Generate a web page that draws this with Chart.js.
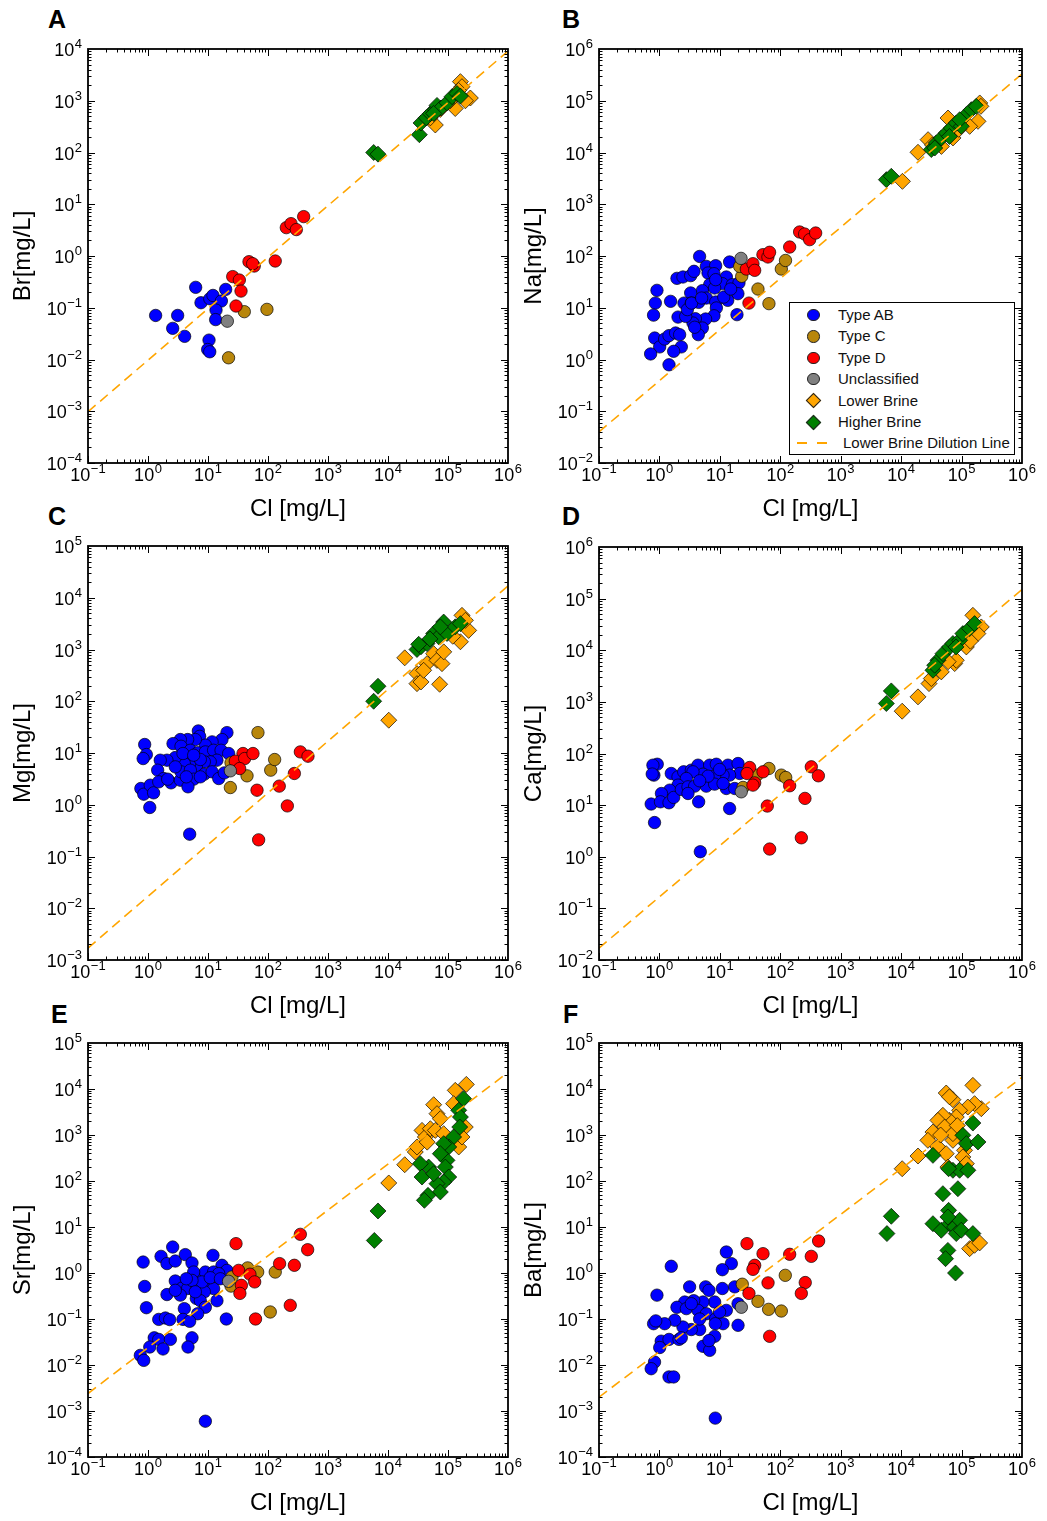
<!DOCTYPE html>
<html><head><meta charset="utf-8">
<script src="https://cdn.jsdelivr.net/npm/chart.js@4.4.1/dist/chart.umd.min.js"></script>
<style>
html,body{margin:0;padding:0;background:#fff;}
#page{position:relative;width:1047px;height:1521px;overflow:hidden;background:#fff;font-family:"Liberation Sans",Arial,sans-serif;}
canvas{position:absolute;}
.lbl{position:absolute;font-weight:bold;font-size:25px;line-height:25px;color:#000;}
#legend{position:absolute;left:789px;top:302px;width:224px;height:151px;border:1.5px solid #000;background:#fff;z-index:5;}
.row{position:absolute;left:0;height:20px;width:220px;font-size:15px;line-height:20px;color:#111;}
.row span.t{position:absolute;left:48px;top:0;white-space:nowrap;}
.mk{position:absolute;box-sizing:border-box;border:1px solid #222;}
.circ{width:12.5px;height:12.5px;border-radius:50%;left:17px;top:3.8px;}
.dia{width:11px;height:11px;left:17.5px;top:4.5px;transform:rotate(45deg);}
.dash{position:absolute;top:9px;height:2px;width:10px;background:#FFA500;}
</style></head><body><div id="page">
<div class="lbl" style="left:48px;top:7px">A</div>
<div class="lbl" style="left:562px;top:7px">B</div>
<div class="lbl" style="left:48px;top:504px">C</div>
<div class="lbl" style="left:562px;top:504px">D</div>
<div class="lbl" style="left:51px;top:1002px">E</div>
<div class="lbl" style="left:563px;top:1002px">F</div>
<div id="legend"></div>
</div>
<script>
// ---------------- DATA: [Cl, value] pairs ----------------
const X_TICKS = [0.1, 1, 10, 100, 1e3, 1e4, 1e5, 1e6];
const A_yTicks = [1e-4,1e-3,1e-2,0.1,1,10,100,1e3,1e4];
const B_yTicks = [1e-2,0.1,1,10,100,1e3,1e4,1e5,1e6];
const C_yTicks = [1e-3,1e-2,0.1,1,10,100,1e3,1e4,1e5];
const D_yTicks = [1e-2,0.1,1,10,100,1e3,1e4,1e5,1e6];
const E_yTicks = [1e-4,1e-3,1e-2,0.1,1,10,100,1e3,1e4,1e5];
const F_yTicks = [1e-4,1e-3,1e-2,0.1,1,10,100,1e3,1e4,1e5];

const seriesNames = ['Type AB','Type C','Type D','Unclassified','Lower Brine','Higher Brine'];
const lineName = 'Lower Brine Dilution Line';

// Panel A: Br
const A_AB = [[1.34,0.071],[2.58,0.040],[3.12,0.071],[4.08,0.028],[6.23,0.248],[7.64,0.125],[10.7,0.149],[12.1,0.173],[16.7,0.135],[19.7,0.226],[13.6,0.090],[13.4,0.059],[10.4,0.0237],[9.87,0.0156],[10.7,0.0141]];
const A_C = [[40.3,0.084],[96,0.093],[22,0.0108]];
const A_D = [[25.8,0.40],[33.3,0.343],[35.5,0.21],[29.3,0.108],[48.2,0.776],[59,0.64],[55.5,0.71],[132,0.80],[202,3.53],[242,4.22],[297,3.24],[393,5.77]];
const A_U = [[21,0.055]];
const A_LB = [[61500,340],[161000,2340],[171000,1870],[132000,708],[236000,1130],[109000,1000],[150000,1580],[50800,468],[74500,680],[195000,1000]];
const A_HB = [[5770,100],[6810,93],[33300,221],[35500,372],[43500,468],[50800,563],[61500,676],[65600,813],[76400,724],[57700,569],[96200,912],[117000,1200],[141000,1380],[161000,1230]];
const A_line = [[0.1,0.00098],[1e6,9100]];

// Panel B: Na
const B_AB = [[4.62,98],[0.91,21.7],[0.855,12.3],[0.80,7.2],[1.53,13.3],[1.95,37],[2.45,39.3],[3.29,41.7],[3.73,50.6],[5.97,63],[8.53,65],[6.37,46.9],[8.0,45.5],[14.5,76.6],[6.78,27.9],[5.13,21.4],[3.29,19.3],[2.55,12.3],[3.37,12.3],[4.46,12.7],[5.97,15.4],[8.53,12.9],[8.75,9.9],[8.0,7.0],[5.82,6.06],[3.93,6.15],[3.59,5.07],[5.13,4.06],[4.4,3.02],[2.03,6.6],[2.72,6.8],[2.9,9.2],[12.8,39.3],[11.0,29.2],[16.1,27.9],[20.7,30.1],[19.9,18.7],[13.5,13.9],[11.6,16.1],[19.2,7.35],[0.835,2.6],[1.01,1.75],[1.22,2.49],[1.44,2.89],[1.85,3.25],[2.16,3.02],[2.3,1.75],[1.72,1.44],[0.715,1.28],[1.44,0.79],[8.2,24.1],[8.53,34.9],[15.1,23],[3.4,12.3],[5.0,15.4],[3.83,4.2]];
const B_C = [[23,40.5],[21.3,63],[42.7,23],[64.9,12],[104,56],[122,82]];
const B_D = [[30.3,12.3],[27.4,56],[35.3,71],[37.7,52.8],[51.6,106],[62.4,95.7],[66.5,118],[143,149],[209,291],[253,266],[306,207],[385,278]];
const B_U = [[22.4,90]];
const B_LB = [[19000,10100],[10500,2770],[27900,17700],[59600,46400],[200000,90600],[187000,40000],[136000,32000],[72100,19100],[46400,13100],[209000,78000],[33000,14000],[90000,28000]];
const B_HB = [[5690,2990],[6870,3470],[31600,11400],[38200,15300],[46400,19100],[56100,23800],[67700,29700],[81800,37100],[98900,32100],[120000,53800],[145000,67300],[175000,78000],[36000,12200],[63000,20400],[93000,43000]];
const B_line = [[0.1,0.04],[1e6,330000]];

// Panel C: Mg
const C_AB = [[6.9,26.7],[7.26,21],[20.7,24.8],[17.1,18.2],[11.7,16.4],[9.03,14.2],[6.15,18.2],[4.58,18.2],[3.46,18.2],[2.61,15.2],[3.55,13.5],[5.08,11.3],[6.73,10.1],[9.03,10.5],[12.4,11.3],[16.5,11.3],[22.1,9.77],[14.1,7.26],[10.9,6.75],[8.69,6.75],[6.39,5.4],[4.95,6.26],[4.03,6.26],[2.85,8.17],[2.07,7.26],[1.6,7.26],[1.45,4.66],[1.82,3.21],[2.42,2.65],[3.46,2.98],[3.55,4.33],[5.08,4.66],[5.77,3.12],[8.69,3.9],[11.7,4.33],[15.1,3.21],[18.7,4.13],[4.64,2.22],[0.88,14.6],[0.94,9.33],[0.83,7.81],[0.76,2.06],[0.85,1.6],[1.09,2.39],[1.24,1.7],[1.51,2.77],[2.13,3.12],[1.07,0.885],[4.95,0.27],[3.83,9.77],[7.45,7.48],[5.77,9.08],[4.35,3.46],[7.45,3.46],[2.85,5.4]];
const C_C = [[68,24.8],[24.2,6.46],[23.6,2.15],[44.7,3.62],[111,4.66],[129,7.48]];
const C_D = [[38.3,9.77],[28.5,6.95],[40.8,7.81],[56.2,9.77],[33.7,5.01],[65.6,1.91],[154,2.29],[275,4.02],[210,0.95],[346,10.5],[464,8.67],[69.8,0.21]];
const C_U = [[23.6,4.52]];
const C_LB = [[19000,690],[10300,43],[30400,342],[30400,219],[35500,236],[72600,213],[57700,830],[44700,533],[65600,617],[79400,533],[161000,1410],[221000,2340],[171000,4570],[195000,3660],[39300,396],[85000,900],[120000,1800]];
const C_HB = [[5770,100],[6810,195],[30400,1000],[35500,1130],[44700,1300],[57700,2040],[69900,1760],[84700,3390],[96200,2040],[132000,2740],[161000,3160],[32500,1260],[74500,2740],[50000,1600]];
const C_line = [[0.1,0.0017],[1e6,17000]];

// Panel D: Ca
const D_AB = [[0.92,62],[0.81,38.1],[1.57,41],[2.03,35.3],[2.52,44.2],[3.37,47.6],[4.35,59.4],[6.78,59.4],[8.74,62],[13.6,59.4],[20,64],[21.3,41],[14.5,38.1],[11.3,38.1],[8.2,36.4],[5.26,39.8],[3.59,44.2],[2.79,32.8],[2.03,24.4],[1.48,19.5],[1.08,16.8],[0.73,10.5],[1.04,11.6],[1.44,11.1],[1.72,14.1],[2.3,20.1],[2.97,22.6],[3.83,23.3],[5.97,23.3],[8.2,25.5],[12.8,21],[17.6,21],[4.46,11.6],[14.5,8.6],[0.83,4.6],[4.75,1.25],[0.78,59.4],[0.76,40],[6.37,36.4],[9.9,49],[4.63,29.6],[2.97,16.8],[11.3,26.2]];
const D_C = [[24.2,22],[64.9,51.3],[41.1,38.1],[104,38.1],[123,34.3]];
const D_D = [[31.1,53.6],[28.1,41],[51.8,44.2],[37.7,27],[35.3,24.4],[143,23.7],[326,55.2],[427,37],[61,9.6],[256,13.5],[223,2.33],[66.7,1.41]];
const D_U = [[22.6,18.1]];
const D_LB = [[10400,660],[19000,1250],[28900,2260],[31600,2830],[46200,3810],[76900,5520],[81800,6400],[120000,11600],[154000,47500],[212000,28300],[186000,21000],[140000,15000],[60000,6000]];
const D_HB = [[5690,930],[6870,1630],[33600,4100],[40700,6400],[49300,8600],[63500,11600],[72000,13500],[93000,15600],[105000,21000],[136000,26300],[164000,32800],[35900,5130],[81000,11600]];
const D_line = [[0.1,0.017],[1e6,150000]];

// Panel E: Sr
const E_AB = [[2.58,3.67],[1.65,2.3],[0.83,1.73],[2.07,1.6],[2.85,1.82],[4.19,2.51],[5.41,1.65],[12.1,2.42],[17.1,1.47],[20.7,1.14],[0.88,0.51],[2.85,0.67],[3.69,0.47],[4.58,0.46],[6.31,0.82],[6.56,0.48],[9.03,1.05],[12.4,1.05],[15.1,0.97],[10.3,0.64],[12.4,0.46],[8.69,0.39],[2.07,0.34],[3.46,0.33],[6.39,0.28],[7.45,0.25],[9.03,0.18],[14.1,0.25],[6.73,0.13],[4.03,0.168],[0.94,0.176],[1.51,0.098],[1.95,0.105],[2.3,0.097],[3.83,0.098],[4.95,0.089],[20.2,0.10],[1.27,0.039],[1.51,0.036],[2.36,0.036],[5.41,0.039],[4.64,0.0246],[1.07,0.0246],[1.78,0.0223],[0.745,0.0162],[0.85,0.0126],[9.03,0.0006],[5.77,1.05],[7.94,0.64],[10.9,0.79],[5.41,0.69],[16.1,0.75],[4.35,0.75],[6.15,0.39],[2.85,0.42]];
const E_C = [[45.8,1.29],[67.3,1.05],[132,1.05],[25.1,0.82],[24.2,0.52],[109,0.142]];
const E_D = [[29.3,4.35],[32.4,1.14],[50,0.94],[60,0.64],[36,0.54],[34,0.36],[156,1.6],[275,1.47],[346,6.93],[458,3.21],[62,0.10],[235,0.198]];
const E_U = [[22,0.66]];
const E_LB = [[19000,226],[10300,90.6],[28500,427],[30400,549],[36900,1260],[41900,905],[50800,1370],[57700,4560],[65600,2910],[74500,2260],[61500,1260],[84700,1070],[132000,9350],[202000,12600],[124000,4800],[194000,1490],[151000,549],[171000,905],[45000,700]];
const E_HB = [[6810,22.3],[5920,5.1],[182000,6170],[151000,3440],[161000,2460],[157000,1490],[124000,905],[103000,549],[84700,649],[96200,281],[74500,393],[90300,201],[103000,122],[84700,95],[65600,87.5],[74500,57.7],[47600,201],[34600,238],[36900,122],[46400,48.8],[40400,38],[57700,144]];
const E_line = [[0.1,0.0024],[1e6,23000]];

// Panel F: Ba
const F_AB = [[12.8,2.86],[15.5,1.6],[11.0,1.18],[1.57,1.4],[0.91,0.33],[3.16,0.50],[5.82,0.50],[6.61,0.42],[11.0,0.46],[17.6,0.50],[8.2,0.234],[5.26,0.234],[3.69,0.25],[2.62,0.234],[1.95,0.18],[2.79,0.168],[4.35,0.154],[5.97,0.13],[8.5,0.10],[12.8,0.154],[20,0.215],[20,0.073],[11.3,0.079],[8.4,0.079],[4.63,0.059],[3.37,0.059],[2.45,0.067],[1.79,0.094],[1.22,0.079],[0.80,0.079],[0.87,0.091],[1.07,0.033],[1.01,0.024],[1.44,0.036],[2.11,0.036],[2.3,0.039],[5.26,0.0255],[6.78,0.0208],[8.2,0.042],[6.61,0.034],[0.83,0.0116],[0.73,0.0083],[1.44,0.0055],[1.72,0.0055],[8.4,0.0007],[3.37,0.215],[4.63,0.10],[9.9,0.142]];
const F_C = [[23.5,0.57],[42.7,0.242],[64.1,0.162],[104,0.149],[121,0.89]];
const F_D = [[28.1,4.35],[51.8,2.63],[37.7,1.47],[35.3,1.2],[62.7,0.61],[30.3,0.36],[143,2.55],[326,2.3],[431,4.96],[259,0.62],[223,0.36],[66.7,0.042]];
const F_U = [[22.7,0.18]];
const F_LB = [[10400,185],[19000,349],[154000,12000],[55700,8180],[71900,5860],[63000,6760],[212000,3730],[164000,4800],[127000,4060],[92700,3440],[81700,2460],[63300,2080],[49100,2680],[40600,2080],[52400,1490],[33600,1160],[27700,766],[40600,549],[55700,393],[71900,766],[112000,464],[105000,333],[120000,238],[59400,201],[71900,1070],[136000,3.38],[164000,4],[199000,4.5],[45000,1000],[85000,1600]];
const F_HB = [[5820,7.2],[6870,17.1],[33600,361],[49100,53],[86900,68],[71900,171],[92700,171],[127000,171],[61000,185],[154000,1820],[105000,984],[120000,649],[187000,705],[61000,23],[33600,11.8],[46100,8.5],[63300,11.8],[76600,10],[92700,14],[81700,7.2],[98900,8.5],[154000,7.2],[59400,3.1],[54300,2.05],[79400,1.0],[59400,16.5]];
const F_line = [[0.1,0.0020],[1e6,18000]];

// ---------------- STYLE ----------------
const FONT = '"Liberation Sans", Arial, sans-serif';
const groupStyles = [
  {color:'#0000FF', shape:'circle'},
  {color:'#B8860B', shape:'circle'},
  {color:'#FF0000', shape:'circle'},
  {color:'#808080', shape:'circle'},
  {color:'#FFA500', shape:'rectRot'},
  {color:'#008000', shape:'rectRot'}
];
const LINE_COLOR = '#FFA500';

const panels = [
  {yLabel:'Br[mg/L]', yTicks:A_yTicks, groups:[A_AB,A_C,A_D,A_U,A_LB,A_HB], line:A_line, L:88, R:508, T:49, B:463},
  {yLabel:'Na[mg/L]', yTicks:B_yTicks, groups:[B_AB,B_C,B_D,B_U,B_LB,B_HB], line:B_line, L:599, R:1022, T:49, B:463},
  {yLabel:'Mg[mg/L]', yTicks:C_yTicks, groups:[C_AB,C_C,C_D,C_U,C_LB,C_HB], line:C_line, L:88, R:508, T:546, B:960},
  {yLabel:'Ca[mg/L]', yTicks:D_yTicks, groups:[D_AB,D_C,D_D,D_U,D_LB,D_HB], line:D_line, L:599, R:1022, T:547, B:960},
  {yLabel:'Sr[mg/L]', yTicks:E_yTicks, groups:[E_AB,E_C,E_D,E_U,E_LB,E_HB], line:E_line, L:88, R:508, T:1043, B:1457},
  {yLabel:'Ba[mg/L]', yTicks:F_yTicks, groups:[F_AB,F_C,F_D,F_U,F_LB,F_HB], line:F_line, L:599, R:1022, T:1043, B:1457}
];

function expOf(v){ return Math.round(Math.log10(v)); }
function pow10Text(v){ const e = expOf(v); return '10^' + e; }

// draws "10" with a raised exponent, used for the axes' own tick values
function drawPow(ctx, v, x, yBase, align){
  const e = expOf(v);
  const sup = (e < 0 ? '\u2212' : '') + Math.abs(e);
  ctx.font = '18px ' + FONT;
  const wb = ctx.measureText('10').width;
  ctx.font = '13px ' + FONT;
  const ws = ctx.measureText(sup).width;
  const total = wb + 0.5 + ws;
  const x0 = align === 'center' ? x - total / 2 : x - total;
  ctx.textAlign = 'left'; ctx.textBaseline = 'alphabetic';
  ctx.font = '18px ' + FONT; ctx.fillText('10', x0, yBase);
  ctx.font = '13px ' + FONT; ctx.fillText(sup, x0 + wb + 0.5, yBase - 8);
}

const frameTicks = {
  id:'frameTicks',
  afterDatasetsDraw(chart){
    const {ctx, chartArea:{left,right,top,bottom}, scales:{x,y}} = chart;
    ctx.save();
    ctx.strokeStyle = '#000';
    ctx.lineWidth = 1;
    ctx.beginPath();
    const lx0 = expOf(x.min), lx1 = expOf(x.max);
    for (let e = lx0; e < lx1; e++) for (let m = 1; m <= 9; m++) {
      const px = Math.round(x.getPixelForValue(m * Math.pow(10, e))) + 0.5;
      const len = m === 1 ? 7 : 3.5;
      ctx.moveTo(px, bottom); ctx.lineTo(px, bottom - len);
      ctx.moveTo(px, top); ctx.lineTo(px, top + len);
    }
    const ly0 = expOf(y.min), ly1 = expOf(y.max);
    for (let e = ly0; e < ly1; e++) for (let m = 1; m <= 9; m++) {
      const py = Math.round(y.getPixelForValue(m * Math.pow(10, e))) + 0.5;
      const len = m === 1 ? 7 : 3.5;
      ctx.moveTo(left, py); ctx.lineTo(left + len, py);
      ctx.moveTo(right, py); ctx.lineTo(right - len, py);
    }
    ctx.stroke();
    ctx.lineWidth = 1.8;
    ctx.strokeRect(left, top, right - left, bottom - top);
    // tick labels from the axes' own tick list
    ctx.fillStyle = '#000';
    x.ticks.forEach(t => drawPow(ctx, t.value, x.getPixelForValue(t.value), bottom + 18, 'center'));
    y.ticks.forEach(t => drawPow(ctx, t.value, left - 6, y.getPixelForValue(t.value) + 7, 'right'));
    ctx.restore();
  }
};

const PAD_T = 16, PAD_R = 20, YW = 88, XH = 61;
const page = document.getElementById('page');

panels.forEach(p => {
  const cv = document.createElement('canvas');
  const w = (p.R - p.L) + YW + PAD_R;
  const h = PAD_T + (p.B - p.T) + XH;
  cv.width = w; cv.height = h;
  cv.style.left = (p.L - YW) + 'px';
  cv.style.top = (p.T - PAD_T) + 'px';
  cv.style.width = w + 'px'; cv.style.height = h + 'px';
  page.appendChild(cv);

  const datasets = [];
  datasets.push({
    label: lineName, type:'scatter', showLine:true,
    data: p.line.map(d => ({x:d[0], y:d[1]})),
    borderColor: LINE_COLOR, borderWidth: 1.6, borderDash:[10,6],
    pointRadius: 0, fill:false
  });
  for (let g = 5; g >= 0; g--) {
    const st = groupStyles[g];
    const r = st.shape === 'circle' ? 6.2 : 8;
    datasets.push({
      label: seriesNames[g], type:'scatter',
      data: p.groups[g].map(d => ({x:d[0], y:d[1]})),
      backgroundColor: st.color,
      borderColor: 'rgba(0,0,0,0.85)', borderWidth: 0.8,
      pointStyle: st.shape, pointRadius: r, pointHoverRadius: r
    });
  }

  new Chart(cv, {
    type:'scatter',
    data:{datasets},
    options:{
      responsive:false, animation:false, devicePixelRatio:1,
      layout:{padding:{left:0, top:PAD_T, right:PAD_R, bottom:0}},
      plugins:{legend:{display:false}, tooltip:{enabled:false}},
      events:[],
      scales:{
        x:{
          type:'logarithmic', position:'bottom', min:X_TICKS[0], max:X_TICKS[X_TICKS.length-1],
          grid:{display:false}, border:{display:false},
          afterBuildTicks: s => { s.ticks = X_TICKS.map(v => ({value:v})); },
          afterFit: s => { s.height = XH; },
          ticks:{display:false, autoSkip:false, callback: v => pow10Text(v)},
          title:{display:true, text:'Cl [mg/L]', color:'#000', font:{family:FONT, size:24}, padding:{top:0, bottom:0}}
        },
        y:{
          type:'logarithmic', position:'left', min:p.yTicks[0], max:p.yTicks[p.yTicks.length-1],
          grid:{display:false}, border:{display:false},
          afterBuildTicks: s => { s.ticks = p.yTicks.map(v => ({value:v})); },
          afterFit: s => { s.width = YW; },
          ticks:{display:false, autoSkip:false, callback: v => pow10Text(v)},
          title:{display:true, text:p.yLabel, color:'#000', font:{family:FONT, size:24}, padding:{top:9, bottom:0}}
        }
      }
    },
    plugins:[frameTicks]
  });
});

// ---------------- LEGEND (panel B) ----------------
const legend = document.getElementById('legend');
const rowTop0 = 2, rowPitch = 21.4;
seriesNames.forEach((name, i) => {
  const st = groupStyles[i];
  const row = document.createElement('div');
  row.className = 'row';
  row.style.top = (rowTop0 + i * rowPitch) + 'px';
  const mk = document.createElement('div');
  mk.className = 'mk ' + (st.shape === 'circle' ? 'circ' : 'dia');
  mk.style.background = st.color;
  row.appendChild(mk);
  const t = document.createElement('span');
  t.className = 't'; t.textContent = name;
  row.appendChild(t);
  legend.appendChild(row);
});
{
  const row = document.createElement('div');
  row.className = 'row';
  row.style.top = (rowTop0 + 6 * rowPitch) + 'px';
  const d1 = document.createElement('div'); d1.className = 'dash'; d1.style.left = '7px';
  const d2 = document.createElement('div'); d2.className = 'dash'; d2.style.left = '27px';
  row.appendChild(d1); row.appendChild(d2);
  const t = document.createElement('span');
  t.className = 't'; t.style.left = '53px'; t.textContent = lineName;
  row.appendChild(t);
  legend.appendChild(row);
}
</script></body></html>
